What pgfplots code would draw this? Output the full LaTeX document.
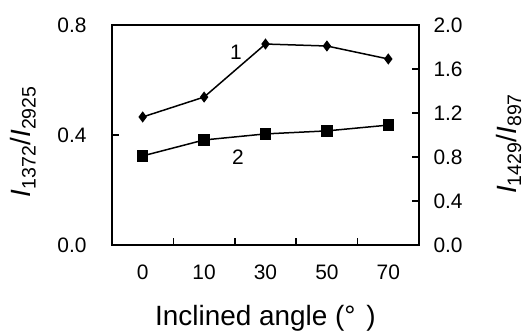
\documentclass[border=0pt]{standalone}
\usepackage{fontspec}
\setmainfont{Liberation Sans}
\usepackage{pgfplots}
\pgfplotsset{compat=1.18}
\begin{document}
\begin{tikzpicture}
\pgfplotsset{
 every axis/.append style={
  scale only axis, width=307bp, height=220bp,
  xmin=-0.5, xmax=4.5,
  tick align=inside,
  major tick length=7bp,
  /pgf/number format/assume math mode=true,
  tick label style={font=\fontsize{21}{24}\selectfont, text=black},
  label style={font=\fontsize{28}{32}\selectfont},
  axis line style={line width=1.9bp},
  every tick/.style={black, line width=1.6bp},
 }
}
\begin{axis}[
  ymin=0, ymax=0.8,
  ytick={0,0.4,0.8},
  ytick pos=left, xtick pos=bottom,
  yticklabel style={/pgf/number format/fixed, /pgf/number format/fixed zerofill, /pgf/number format/precision=1, xshift=-22bp},
  xtick={0.5,1.5,2.5,3.5},
  xticklabels={,,,},
  extra x ticks={0,1,2,3,4},
  extra x tick labels={0,10,30,50,70},
  extra x tick style={major tick length=0pt, xticklabel style={yshift=-16bp}},
  ylabel={\textit{I}\textsubscript{1372}/\textit{I}\textsubscript{2925}},
  ylabel style={at={(axis description cs:-0.265,0.47)}, anchor=base},
  xlabel={Inclined angle (°\hspace{11bp})},
  xlabel style={at={(axis description cs:0.5,-0.364)}, anchor=base},
]
\addplot[black, line width=1.5bp, mark=square*, mark size=4.9bp, mark options={solid}]
  coordinates {(0,0.324) (1,0.382) (2,0.404) (3,0.415) (4,0.436)};
\node[font=\fontsize{21}{24}\selectfont] at (axis cs:1.52,0.702) {1};
\node[font=\fontsize{21}{24}\selectfont] at (axis cs:1.55,0.32) {2};
\coordinate (BL) at (rel axis cs:0,0);
\end{axis}
\begin{axis}[
  ymin=0, ymax=2.0,
  ytick={0,0.4,0.8,1.2,1.6,2.0},
  axis x line=none, axis y line*=right,
  yticklabel style={/pgf/number format/fixed, /pgf/number format/fixed zerofill, /pgf/number format/precision=1, xshift=11bp},
  ylabel={\textit{I}\textsubscript{1429}/\textit{I}\textsubscript{897}},
  ylabel style={at={(axis description cs:1.316,0.46)}, anchor=base},
]
\addplot[black, line width=1.5bp, mark=diamond*, mark size=4.4bp, mark options={solid}]
  coordinates {(0,1.164) (1,1.345) (2,1.827) (3,1.809) (4,1.691)};
\end{axis}
\pgfresetboundingbox
\path (BL) ++(-112bp,-86bp) rectangle ++(528bp,331bp);
\end{tikzpicture}
\end{document}
